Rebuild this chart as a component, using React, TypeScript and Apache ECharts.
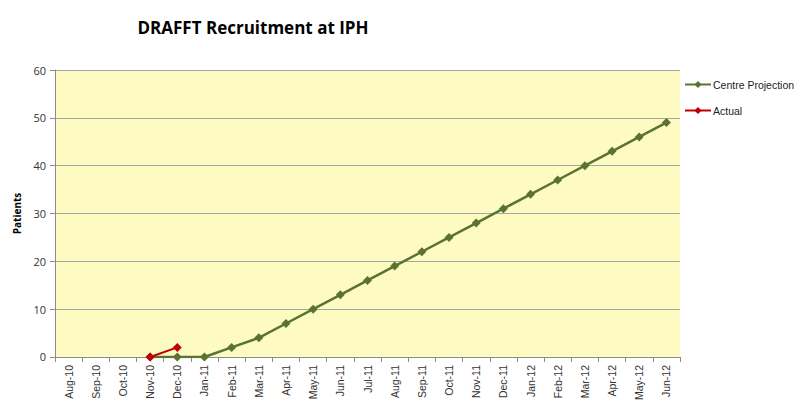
import React, { useEffect, useRef } from "react";
import * as echarts from "echarts";

const categories = ["Aug-10","Sep-10","Oct-10","Nov-10","Dec-10","Jan-11","Feb-11","Mar-11","Apr-11","May-11","Jun-11","Jul-11","Aug-11","Sep-11","Oct-11","Nov-11","Dec-11","Jan-12","Feb-12","Mar-12","Apr-12","May-12","Jun-12"];
const projection = [null,null,null,0,0,0,2,4,7,10,13,16,19,22,25,28,31,34,37,40,43,46,49];
const actual = [null,null,null,0,2,null,null,null,null,null,null,null,null,null,null,null,null,null,null,null,null,null,null];
const yTicks = { min: 0, max: 60, interval: 10 };

export default function App() {
  const ref = useRef<HTMLDivElement>(null);
  useEffect(() => {
    const chart = echarts.init(ref.current!, null, { renderer: "svg" });
    chart.setOption({
      animation: false,
      textStyle: { fontFamily: "Open Sans" },
      title: {
        text: "DRAFFT Recruitment at IPH",
        left: 248, top: 14, textAlign: "center",
        textStyle: { fontSize: 17, fontWeight: "bold", color: "#000", fontFamily: "Open Sans" },
      },
      legend: {
        orient: "vertical", left: 684, top: 79, width: 120, itemGap: 15, itemWidth: 26, itemHeight: 9,
        padding: 0,
        textStyle: { fontSize: 10.5, color: "#222", fontFamily: "Liberation Sans", padding: [0, 0, 0, -3] },
        data: ["Centre Projection", "Actual"],
      },
      grid: { left: 55, right: 115, top: 70, bottom: 45, show: true, backgroundColor: "#FDFBC2", borderWidth: 0 },
      xAxis: {
        type: "category", data: categories, boundaryGap: true,
        axisLine: { lineStyle: { color: "#8c8c8c" } },
        axisTick: { show: true, length: 5, lineStyle: { color: "#8c8c8c" } },
        axisLabel: { rotate: 90, fontSize: 10.5, color: "#333", margin: 8, interval: 0, fontFamily: "Liberation Sans" },
      },
      yAxis: {
        type: "value", ...yTicks,
        name: "Patients", nameLocation: "middle", nameGap: 33, nameRotate: 90,
        nameTextStyle: { fontSize: 10, fontWeight: "bold", color: "#000" },
        axisLine: { show: true, lineStyle: { color: "#8c8c8c" } },
        axisTick: { show: true, length: 5, lineStyle: { color: "#8c8c8c" } },
        axisLabel: { fontSize: 11, color: "#333", margin: 9 },
        splitLine: { lineStyle: { color: "#a6a6a6" } },
      },
      series: [
        {
          name: "Centre Projection", type: "line", data: projection,
          symbol: "diamond", symbolSize: 9,
          lineStyle: { color: "#5B7330", width: 2.5 },
          itemStyle: { color: "#5B7330" },
        },
        {
          name: "Actual", type: "line", data: actual,
          symbol: "diamond", symbolSize: 9,
          lineStyle: { color: "#C00000", width: 2 },
          itemStyle: { color: "#C00000" },
        },
      ],
    });
    return () => chart.dispose();
  }, []);
  return <div ref={ref} style={{ width: 795, height: 403, position: "absolute", left: 0, top: 0 }} />;
}
